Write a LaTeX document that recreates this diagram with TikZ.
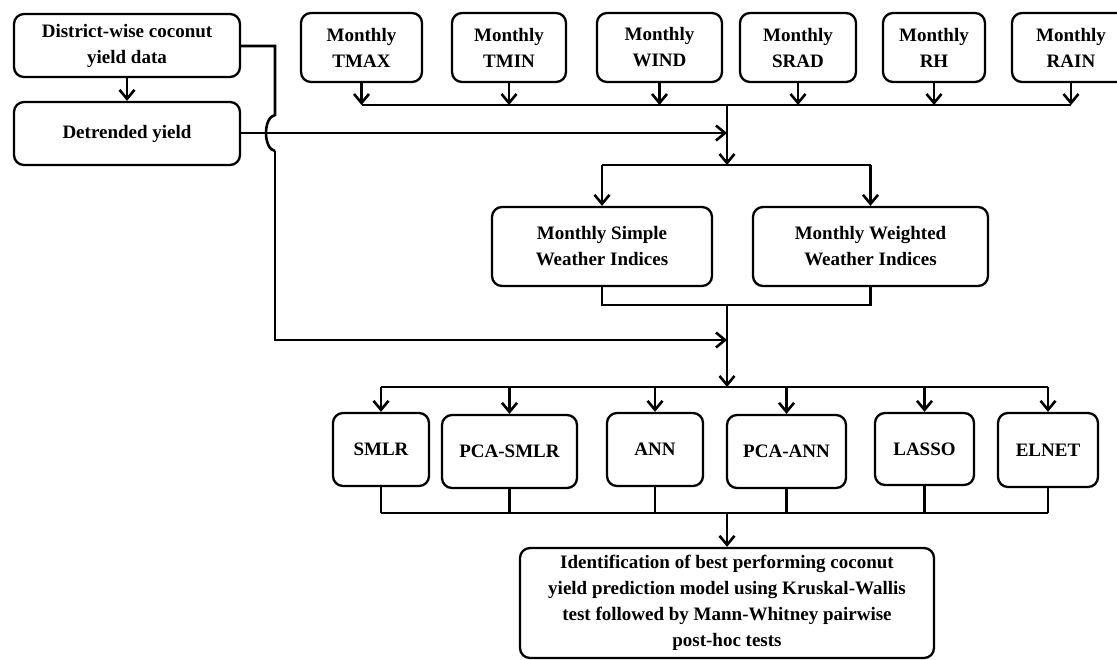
\documentclass[tikz,border=0pt]{standalone}
\usepackage{fontspec}
\setmainfont{Liberation Serif}
\usetikzlibrary{arrows.meta}
\begin{document}
\begin{tikzpicture}[x=1pt,y=-1pt,
  box/.style={draw, line width=2.3pt, rounded corners=10pt, align=center, inner sep=0pt,
    font=\fontsize{19}{26}\selectfont\bfseries},
  ln/.style={line width=2.6pt},
  arr/.style={ln, -{Straight Barb[length=9pt,width=15pt,line width=2.6pt]}},
]
\useasboundingbox (0,0) rectangle (1117,659);

% left column
\node[box, minimum width=226pt, minimum height=63pt] (dist) at (127,45.5) {District-wise coconut\\yield data};
\node[box, minimum width=226pt, minimum height=63pt] (detr) at (127,133.5) {Detrended yield};

% top row
\node[box, minimum width=121pt, minimum height=69pt] (tmax) at (361.5,47.5) {Monthly\\TMAX};
\node[box, minimum width=114pt, minimum height=69pt] (tmin) at (509,47.5) {Monthly\\TMIN};
\node[box, minimum width=125pt, minimum height=69pt] (wind) at (659.5,47.5) {Monthly\\WIND};
\node[box, minimum width=116pt, minimum height=69pt] (srad) at (798,47.5) {Monthly\\SRAD};
\node[box, minimum width=102pt, minimum height=69pt] (rh) at (934,47.5) {Monthly\\RH};
\node[box, minimum width=118pt, minimum height=69pt] (rain) at (1071,47.5) {Monthly\\RAIN};

% weather indices
\node[box, minimum width=220pt, minimum height=79pt] (simple) at (602,246.5) {Monthly Simple\\Weather Indices};
\node[box, minimum width=235pt, minimum height=79pt] (weighted) at (870.5,246.5) {Monthly Weighted\\Weather Indices};

% models
\node[box, minimum width=96pt, minimum height=73pt] (smlr) at (381,449.5) {SMLR};
\node[box, minimum width=135pt, minimum height=73pt] (pcasmlr) at (509.5,451.5) {PCA-SMLR};
\node[box, minimum width=96pt, minimum height=73pt] (ann) at (655,449.5) {ANN};
\node[box, minimum width=119pt, minimum height=73pt] (pcaann) at (786.5,451.5) {PCA-ANN};
\node[box, minimum width=99pt, minimum height=72pt] (lasso) at (924.5,449) {LASSO};
\node[box, minimum width=100pt, minimum height=74pt] (elnet) at (1048,450) {ELNET};

% final
\node[box, minimum width=414pt, minimum height=110pt] (final) at (727,603)
  {Identification of best performing coconut\\yield prediction model using Kruskal-Wallis\\test followed by Mann-Whitney pairwise\\post-hoc tests};

% junction coordinates
\coordinate (busA) at (727,105);
\coordinate (jDet) at (727,133);
\coordinate (busB) at (727,165);
\coordinate (busC) at (727,305);
\coordinate (jYield) at (727,340);
\coordinate (busD) at (727,387);
\coordinate (busE) at (727,513);
\coordinate (hopT) at (275,115);
\coordinate (hopB) at (275,151);

% district -> detrended
\draw[arr] (dist.south) -- (detr.south |- detr.north);
% detrended -> junction
\draw[arr] (detr.east |- jDet) -- (jDet);
% district -> yield line with hop
\draw[ln] (dist.east |- 0,46) -- (275,46) -- (hopT)
  .. controls (263,117) and (263,149) .. (hopB);
\draw[arr] (hopB) -- (275,340) -- (jYield);

% top row to bus
\foreach \n in {tmax,tmin,wind,srad,rh,rain}
  \draw[arr] (\n.south) -- (\n.south |- busA);
\draw[ln] (tmax.south |- busA) -- (rain.south |- busA);
\draw[arr] (busA) -- (busB);
\draw[ln] (simple.north |- busB) -- (weighted.north |- busB);
\draw[arr] (simple.north |- busB) -- (simple.north);
\draw[arr] (weighted.north |- busB) -- (weighted.north);

% indices to models
\draw[ln] (simple.south) -- (simple.south |- busC) -- (weighted.south |- busC) -- (weighted.south);
\draw[arr] (busC) -- (busD);
\draw[ln] (smlr.north |- busD) -- (elnet.north |- busD);
\foreach \n in {smlr,pcasmlr,ann,pcaann,lasso,elnet}
  \draw[arr] (\n.north |- busD) -- (\n.north);

% models to final
\foreach \n in {smlr,pcasmlr,ann,pcaann,lasso,elnet}
  \draw[ln] (\n.south) -- (\n.south |- busE);
\draw[ln] (smlr.south |- busE) -- (elnet.south |- busE);
\draw[arr] (busE) -- (final.north);
\end{tikzpicture}
\end{document}
